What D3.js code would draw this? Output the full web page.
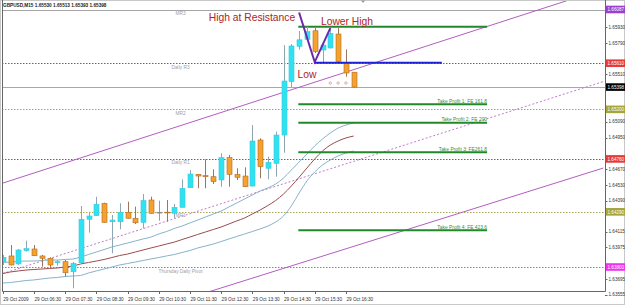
<!DOCTYPE html>
<html>
<head>
<meta charset="utf-8">
<script src="https://cdn.jsdelivr.net/npm/d3@7"></script>
<style>
  body { margin: 0; background: #fff; }
  svg { display: block; font-family: "Liberation Sans", Arial, sans-serif; }
</style>
</head>
<body>
<div id="wrapper"></div>
<script>
// candles, GBPUSD M15, 29 Oct 2009 05:30 .. 16:45
const opens  = [1.63847,1.63898,1.63827,1.63945,1.63960,1.63898,1.63877,1.63838,1.63847,1.63758,
                1.63838,1.64224,1.64256,1.64366,1.64202,1.64202,1.64286,1.64233,1.64197,1.64395,
                1.64286,1.64287,1.64277,1.64330,1.64504,1.64623,1.64611,1.64602,1.64573,1.64771,
                1.64623,1.64608,1.64519,1.64928,1.64677,1.64721,1.64972,1.65446,1.65760,1.65822,
                1.65898,1.65727,1.65745,1.65869,1.65612,1.65530]
const highs  = [1.63907,1.63995,1.63960,1.64034,1.63995,1.63907,1.63886,1.63862,1.63862,1.63845,
                1.64342,1.64291,1.64424,1.64371,1.64262,1.64366,1.64380,1.64336,1.64448,1.64424,
                1.64389,1.64395,1.64360,1.64579,1.64661,1.64626,1.64756,1.64668,1.64810,1.64795,
                1.64677,1.64685,1.65061,1.64943,1.64780,1.65002,1.65771,1.65780,1.65896,1.65934,
                1.65922,1.65789,1.65922,1.65922,1.65733,1.65530]
const lows   = [1.63818,1.63815,1.63818,1.63936,1.63898,1.63803,1.63791,1.63812,1.63714,1.63611,
                1.63835,1.64105,1.64253,1.64194,1.63922,1.64135,1.64230,1.64182,1.64144,1.64274,
                1.64211,1.64202,1.64233,1.64327,1.64502,1.64499,1.64499,1.64537,1.64513,1.64513,
                1.64573,1.64510,1.64516,1.64588,1.64579,1.64602,1.64815,1.65398,1.65730,1.65810,
                1.65700,1.65620,1.65742,1.65624,1.65490,1.65393]
const closes = [1.63886,1.63818,1.63951,1.63963,1.63900,1.63877,1.63818,1.63847,1.63749,1.63833,
                1.64224,1.64253,1.64357,1.64197,1.64217,1.64286,1.64233,1.64193,1.64389,1.64277,
                1.64286,1.64286,1.64330,1.64499,1.64626,1.64608,1.64602,1.64558,1.64771,1.64623,
                1.64597,1.64513,1.64919,1.64691,1.64730,1.64972,1.65452,1.65763,1.65818,1.65890,
                1.65715,1.65771,1.65875,1.65627,1.65523,1.65398]

// moving average envelope
const maMid   = [1.63742,1.63756,1.63765,1.63773,1.63778,1.63782,1.63787,1.63791,1.63800,1.63809,
                 1.63827,1.63840,1.63853,1.63867,1.63884,1.63902,1.63915,1.63933,1.63951,1.63969,
                 1.63986,1.64004,1.64021,1.64044,1.64066,1.64089,1.64111,1.64133,1.64155,1.64182,
                 1.64209,1.64235,1.64271,1.64306,1.64346,1.64391,1.64448,1.64519,1.64597,1.64679,
                 1.64759,1.64830,1.64883,1.64919,1.64946,1.64963]
const maUpper = [1.63840,1.63844,1.63849,1.63853,1.63853,1.63858,1.63862,1.63862,1.63867,1.63871,
                 1.63889,1.63911,1.63933,1.63955,1.63978,1.63995,1.64013,1.64031,1.64049,1.64066,
                 1.64093,1.64115,1.64142,1.64164,1.64191,1.64217,1.64244,1.64271,1.64297,1.64333,
                 1.64368,1.64404,1.64439,1.64475,1.64502,1.64537,1.64590,1.64661,1.64732,1.64803,
                 1.64875,1.64937,1.64990,1.65034,1.65061,1.65079]
const maLower = [1.63658,1.63662,1.63671,1.63680,1.63685,1.63694,1.63702,1.63707,1.63716,1.63720,
                 1.63725,1.63747,1.63765,1.63782,1.63800,1.63818,1.63831,1.63844,1.63858,1.63871,
                 1.63884,1.63898,1.63911,1.63929,1.63946,1.63969,1.63986,1.64004,1.64026,1.64049,
                 1.64071,1.64093,1.64115,1.64138,1.64164,1.64200,1.64253,1.64342,1.64457,1.64564,
                 1.64644,1.64706,1.64750,1.64786,1.64812,1.64830]

// time axis labels (every 4th bar)
const timeTicks  = [0,4,8,12,16,20,24,28,32,36,40,44]
const timeLabels = ["29 Oct 2009","29 Oct 06:30","29 Oct 07:30","29 Oct 08:30","29 Oct 09:30",
                    "29 Oct 10:30","29 Oct 11:30","29 Oct 12:30","29 Oct 13:30","29 Oct 14:30",
                    "29 Oct 15:30","29 Oct 16:30"]

// price axis labels
const priceTicks = [1.65930,1.65790,1.65650,1.65510,1.65370,1.65230,1.65090,1.64950,1.64810,
                    1.64670,1.64530,1.64390,1.64250,1.64115,1.63975,1.63835,1.63695,1.63555]

// pivot levels
const pivotNames  = ["MR3","Daily R3","MR2","Daily R1","MR1","Thursday  Daily Pivot"]
const pivotValues = [1.66087,1.65610,1.65200,1.64760,1.64290,1.63800]
const pivotKinds  = ["mr3","daily","mr","daily","mr","pivot"]
const bidPrice = 1.65398

// trend channel [barIndex, price]
const channelUpper = [[0,1.64545],[77,1.66270]]
const channelMid   = [[0,1.63742],[77,1.65447]]
const channelLower = [[20,1.63440],[77,1.64679]]

// pattern drawing
const patternV = [[38,1.66060],[40,1.65620],[42,1.65922]]
const necklineStart = 40, necklineEnd = 56.3, necklinePrice = 1.65615
const targetStart = 37.9, targetEnd = 62.1
const targetNames  = ["","Take Profit 1: FE 161.8","Take Profit 2: FE 200","Take Profit 3: FE261.8","Take Profit 4: FE 423.6"]
const targetValues = [1.65934,1.65245,1.65081,1.64819,1.64126]
const dotBars = [42,43,44], dotPrice = 1.65434

const notes = [
  {text: "High at Resistance", bar: 37.5, price: 1.65985, anchor: "end"},
  {text: "Lower High", bar: 40.8, price: 1.65953, anchor: "start"},
  {text: "Low", bar: 37.8, price: 1.65478, anchor: "start"}
]

const width = 625, height = 305
const plot = {left: 2, right: 605, top: 0, bottom: 291}

const svg = d3.select("#wrapper").append("svg")
  .attr("width", width).attr("height", height)

svg.append("rect").attr("width", width).attr("height", height).attr("fill", "#fff")

const x = d3.scaleLinear().domain([0, 45]).range([2.7, 2.7 + 45 * 7.8])
const y = d3.scaleLinear().domain([1.63800, 1.66087]).range([267, 9.5])

svg.append("clipPath").attr("id", "clip")
  .append("rect")
    .attr("x", plot.left).attr("y", plot.top)
    .attr("width", plot.right - plot.left).attr("height", plot.bottom - plot.top)

const bounds = svg.append("g").attr("clip-path", "url(#clip)")

// pivots
const pivotColor = {mr3: "#a5a5a5", daily: "#b04848", mr: "#a8a85a", pivot: "#c35ac8"}
const boxColor = {mr3: "#9b3fcf", daily: "#e33b3b", mr: "#a5a53c", pivot: "#ee33ee"}

pivotValues.forEach((v, i) => {
  bounds.append("line")
    .attr("x1", plot.left).attr("x2", plot.right)
    .attr("y1", Math.round(y(v)) + 0.5).attr("y2", Math.round(y(v)) + 0.5)
    .attr("stroke", pivotColor[pivotKinds[i]])
    .attr("stroke-dasharray", pivotKinds[i] == "mr3" ? null : "1.5,1.5")
  bounds.append("text")
    .attr("x", x(22.8)).attr("y", y(v) + 5.5)
    .attr("text-anchor", "middle")
    .attr("font-size", 4.8).attr("fill", "#a0a0a0")
    .text(pivotNames[i])
})

bounds.append("line")
  .attr("x1", plot.left).attr("x2", plot.right)
  .attr("y1", Math.round(y(bidPrice)) + 0.5).attr("y2", Math.round(y(bidPrice)) + 0.5)
  .attr("stroke", "#a8a8a8")

// channel
const line = d3.line().x(d => x(d[0])).y(d => y(d[1]))
bounds.append("path").attr("d", line(channelUpper)).attr("fill", "none")
  .attr("stroke", "#b45cc4").attr("stroke-width", 1)
bounds.append("path").attr("d", line(channelLower)).attr("fill", "none")
  .attr("stroke", "#b45cc4").attr("stroke-width", 1)
bounds.append("path").attr("d", line(channelMid)).attr("fill", "none")
  .attr("stroke", "#c07ccc").attr("stroke-width", 1).attr("stroke-dasharray", "2,2")

// moving averages
const maLine = d3.line().x((d, i) => x(i)).y(d => y(d)).curve(d3.curveMonotoneX)
bounds.append("path").attr("d", maLine(maUpper)).attr("fill", "none").attr("stroke", "#86b2cc")
bounds.append("path").attr("d", maLine(maLower)).attr("fill", "none").attr("stroke", "#86b2cc")
bounds.append("path").attr("d", maLine(maMid)).attr("fill", "none").attr("stroke", "#9a4c4c")

// targets
targetValues.forEach((v, i) => {
  bounds.append("line")
    .attr("x1", x(targetStart)).attr("x2", x(targetEnd))
    .attr("y1", y(v)).attr("y2", y(v))
    .attr("stroke", "#23882a").attr("stroke-width", 2)
  if (targetNames[i]) {
    bounds.append("text")
      .attr("x", x(targetEnd)).attr("y", y(v) - 1.5)
      .attr("text-anchor", "end")
      .attr("font-size", 4.9).attr("fill", "#3c8c3c")
      .text(targetNames[i])
  }
})

// candles
const candles = opens.map((o, i) => ({i, o, h: highs[i], l: lows[i], c: closes[i]}))
const candle = bounds.selectAll(".candle").data(candles).enter().append("g")

candle.append("line")
  .attr("x1", d => Math.round(x(d.i)) + 0.5).attr("x2", d => Math.round(x(d.i)) + 0.5)
  .attr("y1", d => y(d.h)).attr("y2", d => y(d.l))
  .attr("stroke", d => d.c > d.o ? "#8fa6b4" : d.c == d.o ? "#9a9a9a" : "#9a7560")

candle.append("rect")
  .attr("x", d => Math.round(x(d.i)) - 2)
  .attr("width", 5)
  .attr("y", d => y(Math.max(d.o, d.c)))
  .attr("height", d => Math.max(0.8, Math.abs(y(d.o) - y(d.c))))
  .attr("fill", d => d.c > d.o ? "#2ee2f2" : d.c == d.o ? "#8a8a8a" : "#f4a22c")
  .attr("stroke", d => d.c > d.o ? "#3cc8dc" : d.c == d.o ? "#8a8a8a" : "#b26a2a")
  .attr("stroke-width", 0.6)

// pattern
bounds.append("path").attr("d", line(patternV)).attr("fill", "none")
  .attr("stroke", "#6a2ab0").attr("stroke-width", 2)
bounds.append("line")
  .attr("x1", x(necklineStart)).attr("x2", x(necklineEnd))
  .attr("y1", y(necklinePrice)).attr("y2", y(necklinePrice))
  .attr("stroke", "#1e22d6").attr("stroke-width", 2)

bounds.selectAll(".dot").data(dotBars).enter().append("circle")
  .attr("cx", d => x(d)).attr("cy", y(dotPrice)).attr("r", 1.2)
  .attr("fill", "none").attr("stroke", "#d49a9a").attr("stroke-width", 0.8)

bounds.selectAll(".note").data(notes).enter().append("text")
  .attr("x", d => x(d.bar)).attr("y", d => y(d.price))
  .attr("text-anchor", d => d.anchor)
  .attr("font-size", 10.3).attr("fill", "#b0221e")
  .text(d => d.text)

// frame
svg.append("rect").attr("x", 0.5).attr("y", 0.5).attr("width", width - 1).attr("height", height - 1)
  .attr("fill", "none").attr("stroke", "#c8c8c8")
svg.append("path")
  .attr("d", `M${plot.left + 0.5},0 V${plot.bottom + 0.5} H${plot.right + 0.5} V0`)
  .attr("fill", "none").attr("stroke", "#666")

svg.append("path")
  .attr("d", `M${x(46.2) - 2},0.5 h4 l-2,2.5 z`)
  .attr("fill", "#999")

svg.append("text")
  .attr("x", 3).attr("y", 6.5)
  .attr("font-size", 4.7).attr("font-weight", "bold").attr("fill", "#222")
  .text("GBPUSD,M15  1.65530 1.65513 1.65393 1.65398")

// time axis
timeTicks.forEach((t, i) => {
  svg.append("line")
    .attr("x1", Math.round(x(t)) + 0.5).attr("x2", Math.round(x(t)) + 0.5)
    .attr("y1", plot.bottom).attr("y2", plot.bottom + 3)
    .attr("stroke", "#666")
  svg.append("text")
    .attr("x", x(t) + 0.5).attr("y", 301)
    .attr("font-size", 4.7).attr("fill", "#333")
    .text(timeLabels[i])
})

// price axis
const boxes = pivotValues.map((v, i) => ({v, kind: pivotKinds[i]}))
boxes.push({v: bidPrice, kind: "bid"})

priceTicks
  .filter(t => boxes.every(b => Math.abs(y(t) - y(b.v)) > 6))
  .forEach(t => {
    svg.append("line")
      .attr("x1", plot.right).attr("x2", plot.right + 2.5)
      .attr("y1", Math.round(y(t)) + 0.5).attr("y2", Math.round(y(t)) + 0.5)
      .attr("stroke", "#666")
    svg.append("text")
      .attr("x", 608.5).attr("y", y(t) + 1.7)
      .attr("font-size", 4.6).attr("fill", "#333")
      .text(t.toFixed(5))
  })

boxes.forEach(b => {
  svg.append("rect")
    .attr("x", plot.right + 1).attr("y", y(b.v) - 3.8)
    .attr("width", 19).attr("height", 7.6)
    .attr("fill", b.kind == "bid" ? "#000" : boxColor[b.kind])
  svg.append("text")
    .attr("x", 607.5).attr("y", y(b.v) + 1.7)
    .attr("font-size", 4.6).attr("fill", "#fff")
    .text(b.v.toFixed(5))
})
</script>
</body>
</html>
